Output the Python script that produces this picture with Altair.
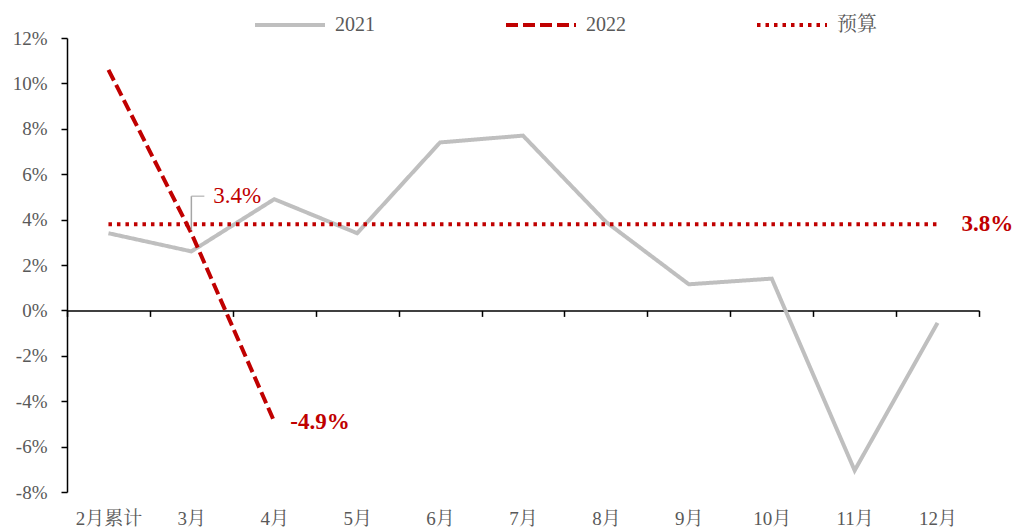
import altair as alt
import pandas as pd

# Months on the x axis
months = ["2月累计", "3月", "4月", "5月", "6月", "7月", "8月", "9月", "10月", "11月", "12月"]

# Year-on-year growth, %
values_2021 = [3.4, 2.6, 4.9, 3.4, 7.4, 7.7, 3.9, 1.15, 1.4, -7.05, -0.55]
values_2022 = [10.6, 3.4, -4.9]
budget_value = 3.8

series_names = ["2021", "2022", "预算"]
series_colors = ["#BFBFBF", "#C00000", "#C00000"]
series_dashes = [[1, 0], [12, 5], [3.5, 5]]

y_ticks = [-8, -6, -4, -2, 0, 2, 4, 6, 8, 10, 12]

rows = []
for m, v in zip(months, values_2021):
    rows.append({"month": m, "value": v, "series": "2021"})
for m, v in zip(months, values_2022):
    rows.append({"month": m, "value": v, "series": "2022"})
for m in months:
    rows.append({"month": m, "value": budget_value, "series": "预算"})
df = pd.DataFrame(rows)

labels = pd.DataFrame([
    {"month": months[2], "value": values_2022[2], "text": f"{values_2022[2]:.1f}%"},
    {"month": months[-1], "value": budget_value, "text": f"{budget_value:.1f}%"},
])
callout = pd.DataFrame([
    {"month": months[1], "value": values_2022[1], "text": f"{values_2022[1]:.1f}%"},
])

FONT = "Liberation Serif, Times New Roman, Noto Serif CJK SC, Noto Sans CJK SC"
GRAY_TXT = "#595959"
RED = "#C00000"

W, H = 912, 454
zero_offset = -(8 / 20) * H  # move the category axis up to the 0% line

x_enc = alt.X(
    "month:N",
    sort=months,
    bandPosition=0.5,
    scale=alt.Scale(type="band", paddingInner=0, paddingOuter=0),
    axis=alt.Axis(
        title=None,
        orient="bottom",
        offset=zero_offset,
        grid=False,
        domainColor="#000000",
        domainWidth=1.5,
        tickColor="#000000",
        tickWidth=1.5,
        tickSize=6,
        tickBand="extent",
        labelAngle=0,
        labelPadding=193,
        labelFontSize=19,
        labelColor=GRAY_TXT,
        labelFont=FONT,
        labelBaseline="top",
    ),
)
y_scale = alt.Scale(domain=[-8, 12], nice=False, zero=False)

lines = alt.Chart(df).mark_line(strokeWidth=4, clip=False).encode(
    x=x_enc,
    y=alt.Y(
        "value:Q",
        scale=y_scale,
        axis=alt.Axis(
            title=None,
            values=y_ticks,
            grid=False,
            labelExpr="datum.value + '%'",
            domainColor="#000000",
            domainWidth=1.5,
            tickColor="#000000",
            tickWidth=1.5,
            tickSize=6,
            labelPadding=14,
            labelFontSize=19,
            labelColor=GRAY_TXT,
            labelFont=FONT,
        ),
    ),
    color=alt.Color(
        "series:N",
        sort=series_names,
        scale=alt.Scale(domain=series_names, range=series_colors),
        legend=alt.Legend(
            title=None,
            orient="none",
            direction="horizontal",
            legendX=186,
            legendY=-50,
            symbolType="stroke",
            symbolSize=4900,
            symbolStrokeWidth=4,
            labelFontSize=20,
            labelFont=FONT,
            labelColor=GRAY_TXT,
            labelOffset=8,
            columnPadding=123,
        ),
    ),
    strokeDash=alt.StrokeDash(
        "series:N",
        sort=series_names,
        scale=alt.Scale(domain=series_names, range=series_dashes),
        legend=alt.Legend(title=None),
    ),
)

value_labels = alt.Chart(labels).mark_text(
    align="left", baseline="middle", dx=16, fontSize=23, fontWeight="bold", color=RED, font=FONT
).encode(x=x_enc, y=alt.Y("value:Q", scale=y_scale), text="text:N")

# budget label sits further right of the line end
budget_label = value_labels.transform_filter(alt.datum.month == months[-1]).mark_text(
    align="left", baseline="middle", dx=24, fontSize=23, fontWeight="bold", color=RED, font=FONT
)
april_label = value_labels.transform_filter(alt.datum.month == months[2])

leader_v = alt.Chart(callout).mark_rule(
    color="#A6A6A6", strokeWidth=1.5, yOffset=-3, y2Offset=-37
).encode(x=x_enc, y=alt.Y("value:Q", scale=y_scale), y2="value:Q")

leader_h = alt.Chart(callout).mark_tick(
    color="#A6A6A6", thickness=1.5, size=13, xOffset=6.5, yOffset=-37
).encode(x=x_enc, y=alt.Y("value:Q", scale=y_scale))

callout_text = alt.Chart(callout).mark_text(
    align="left", baseline="middle", dx=22, dy=-37, fontSize=23, color=RED, font=FONT
).encode(x=x_enc, y=alt.Y("value:Q", scale=y_scale), text="text:N")

chart = (
    alt.layer(lines, april_label, budget_label, leader_v, leader_h, callout_text)
    .properties(
        width=W,
        height=H,
        autosize=alt.AutoSizeParams(type="none"),
        padding={"left": 67, "top": 38, "right": 35, "bottom": 36},
        background="#FFFFFF",
    )
    .configure(font=FONT)
    .configure_view(stroke=None, strokeWidth=0)
    .configure_axis(grid=False)
)

chart.save("out.html", embed_options={"renderer": "svg", "actions": False})
